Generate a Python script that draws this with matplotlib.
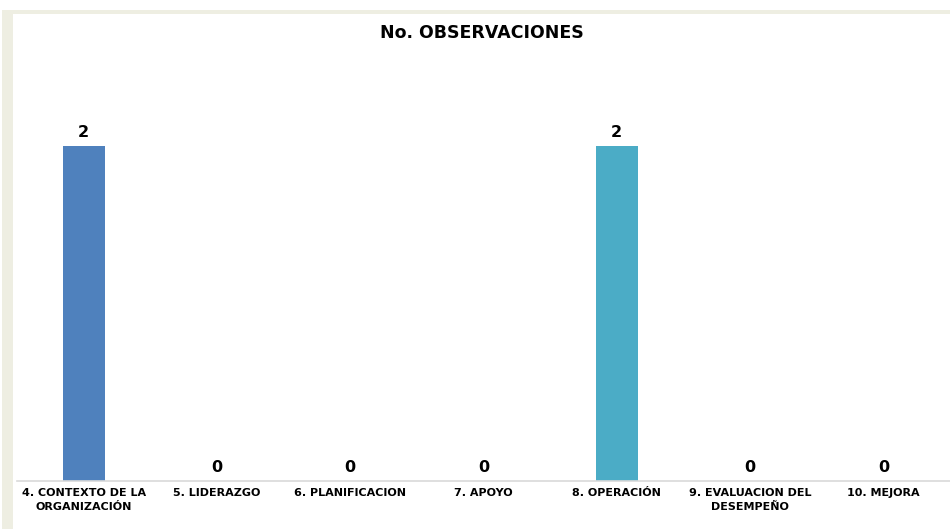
import numpy as np
import matplotlib.pyplot as plt
from matplotlib.patches import Rectangle

categories = ['4. CONTEXTO DE LA\nORGANIZACIÓN', '5. LIDERAZGO', '6. PLANIFICACION',
              '7. APOYO', '8. OPERACIÓN', '9. EVALUACION DEL\nDESEMPEÑO', '10. MEJORA']
values = [2, 0, 0, 0, 2, 0, 0]
colors = ['#4F81BD', '#4F81BD', '#4F81BD', '#4F81BD', '#4BACC6', '#4BACC6', '#4BACC6']

plt.rcParams['font.family'] = ['DejaVu Sans']

fig = plt.figure(figsize=(9.5, 5.29), dpi=100)
# beige frame on the left and top
fig.patches.append(Rectangle((2/950, 0), 11/950, 1 - 10/529, transform=fig.transFigure,
                             facecolor='#EEEEE2', edgecolor='none', zorder=0))
fig.patches.append(Rectangle((2/950, 1 - 14/529), 1, 4/529, transform=fig.transFigure,
                             facecolor='#EEEEE2', edgecolor='none', zorder=0))

ax = fig.add_axes([17/950, 1 - 481/529, 933/950, (481 - 60)/529])
x = np.arange(len(categories))
ax.bar(x, values, width=0.315, color=colors, zorder=2)
for xi, v in zip(x, values):
    ax.annotate(str(v), (xi, v), xytext=(0, 4), textcoords='offset points',
                ha='center', va='bottom', fontsize=11.5, fontweight='bold')

ax.set_xlim(-0.5, len(categories) - 0.5)
ax.set_ylim(0, 2 * 421 / 335)
ax.set_xticks(x)
ax.set_xticklabels(categories, fontsize=8, fontweight='bold', linespacing=1.45)
ax.tick_params(axis='x', length=0, pad=5)
ax.set_yticks([])
for s in ['left', 'right', 'top']:
    ax.spines[s].set_visible(False)
ax.spines['bottom'].set_color('#D9D9D9')
ax.spines['bottom'].set_linewidth(1.2)

fig.text(482/950, 1 - 33/529, 'No. OBSERVACIONES', ha='center', va='center',
         fontsize=12.5, fontweight='bold')

plt.savefig('out.png', dpi=100)
